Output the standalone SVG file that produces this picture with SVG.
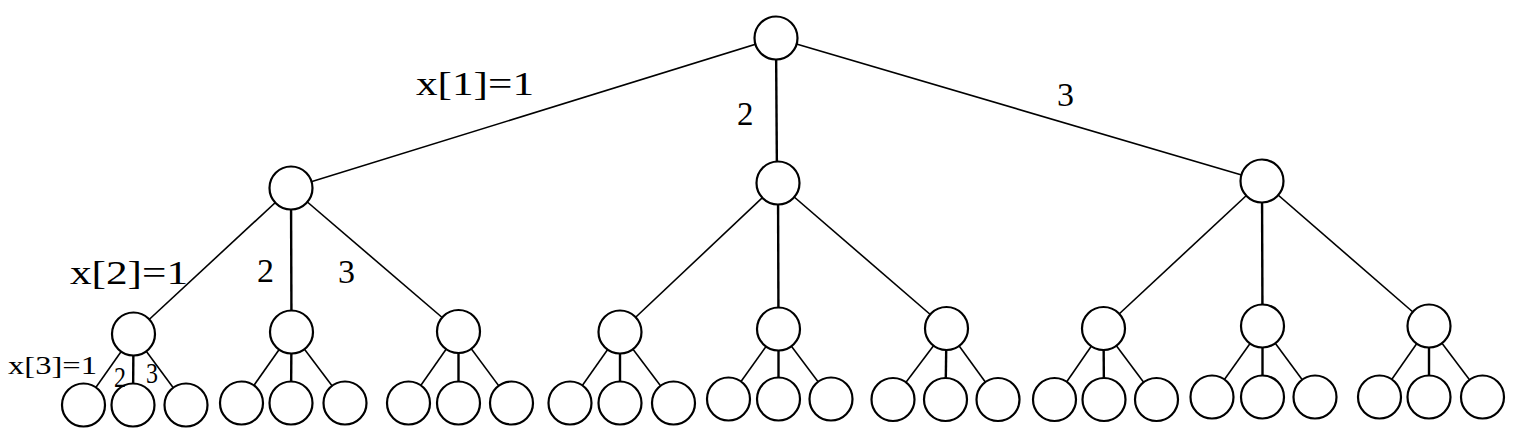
<svg xmlns="http://www.w3.org/2000/svg" width="1528" height="442" viewBox="0 0 1528 442">
<style>
.n{fill:#fff;stroke:#000;stroke-width:2.2}
.e{stroke:#000;stroke-width:1.6;fill:none}
.v{stroke:#000;stroke-width:2.4;fill:none}
.t{font-family:"Liberation Serif","Times New Roman",serif;fill:#000}
</style>
<rect width="1528" height="442" fill="#fff"/>
<g id="connectors">
<line class="e" x1="776" y1="38" x2="291" y2="188"/>
<line class="v" x1="776" y1="38" x2="777" y2="183"/>
<line class="e" x1="776" y1="38" x2="1262" y2="181"/>
<line class="e" x1="291" y1="188" x2="133.5" y2="334"/>
<line class="v" x1="291" y1="188" x2="291.5" y2="332"/>
<line class="e" x1="291" y1="188" x2="458.5" y2="331.5"/>
<line class="e" x1="778" y1="183" x2="620" y2="332"/>
<line class="v" x1="778" y1="183" x2="778.5" y2="329"/>
<line class="e" x1="778" y1="183" x2="946.5" y2="328.5"/>
<line class="e" x1="1262" y1="181" x2="1103.5" y2="328.5"/>
<line class="v" x1="1262" y1="181" x2="1262.5" y2="326"/>
<line class="e" x1="1262" y1="181" x2="1429" y2="326"/>
<line class="e" x1="133.5" y1="334" x2="83.5" y2="405"/>
<line class="v" x1="133.5" y1="334" x2="133" y2="405"/>
<line class="e" x1="133.5" y1="334" x2="186" y2="405"/>
<line class="e" x1="291.5" y1="332" x2="241.5" y2="403"/>
<line class="v" x1="291.5" y1="332" x2="291" y2="403"/>
<line class="e" x1="291.5" y1="332" x2="345" y2="403"/>
<line class="e" x1="458.5" y1="331.5" x2="408.5" y2="403"/>
<line class="v" x1="458.5" y1="331.5" x2="458.5" y2="403"/>
<line class="e" x1="458.5" y1="331.5" x2="511.5" y2="403"/>
<line class="e" x1="620" y1="332" x2="570" y2="403"/>
<line class="v" x1="620" y1="332" x2="620" y2="403"/>
<line class="e" x1="620" y1="332" x2="673.5" y2="403"/>
<line class="e" x1="778.5" y1="329" x2="728.5" y2="399"/>
<line class="v" x1="778.5" y1="329" x2="778.5" y2="399"/>
<line class="e" x1="778.5" y1="329" x2="831" y2="399"/>
<line class="e" x1="946.5" y1="328.5" x2="893" y2="399.5"/>
<line class="v" x1="946.5" y1="328.5" x2="945.5" y2="399.5"/>
<line class="e" x1="946.5" y1="328.5" x2="998" y2="399.5"/>
<line class="e" x1="1103.5" y1="328.5" x2="1054.5" y2="399.5"/>
<line class="v" x1="1103.5" y1="328.5" x2="1104" y2="399.5"/>
<line class="e" x1="1103.5" y1="328.5" x2="1156.5" y2="399.5"/>
<line class="e" x1="1262.5" y1="326" x2="1212" y2="397"/>
<line class="v" x1="1262.5" y1="326" x2="1262.5" y2="397"/>
<line class="e" x1="1262.5" y1="326" x2="1315" y2="397"/>
<line class="e" x1="1429" y1="326" x2="1379.5" y2="397"/>
<line class="v" x1="1429" y1="326" x2="1429" y2="397"/>
<line class="e" x1="1429" y1="326" x2="1482.5" y2="397"/>
</g>
<g id="root"><circle class="n" cx="776" cy="38" r="21.5"/></g>
<g id="n1"><circle class="n" cx="291" cy="188" r="21.5"/></g>
<g id="n2"><circle class="n" cx="778" cy="183" r="21.5"/></g>
<g id="n3"><circle class="n" cx="1262" cy="181" r="21.5"/></g>
<g id="n11"><circle class="n" cx="133.5" cy="334" r="21.5"/></g>
<g id="n12"><circle class="n" cx="291.5" cy="332" r="21.5"/></g>
<g id="n13"><circle class="n" cx="458.5" cy="331.5" r="21.5"/></g>
<g id="n21"><circle class="n" cx="620" cy="332" r="21.5"/></g>
<g id="n22"><circle class="n" cx="778.5" cy="329" r="21.5"/></g>
<g id="n23"><circle class="n" cx="946.5" cy="328.5" r="21.5"/></g>
<g id="n31"><circle class="n" cx="1103.5" cy="328.5" r="21.5"/></g>
<g id="n32"><circle class="n" cx="1262.5" cy="326" r="21.5"/></g>
<g id="n33"><circle class="n" cx="1429" cy="326" r="21.5"/></g>
<g id="n111"><circle class="n" cx="83.5" cy="405" r="21.5"/></g>
<g id="n112"><circle class="n" cx="133" cy="405" r="21.5"/></g>
<g id="n113"><circle class="n" cx="186" cy="405" r="21.5"/></g>
<g id="n121"><circle class="n" cx="241.5" cy="403" r="21.5"/></g>
<g id="n122"><circle class="n" cx="291" cy="403" r="21.5"/></g>
<g id="n123"><circle class="n" cx="345" cy="403" r="21.5"/></g>
<g id="n131"><circle class="n" cx="408.5" cy="403" r="21.5"/></g>
<g id="n132"><circle class="n" cx="458.5" cy="403" r="21.5"/></g>
<g id="n133"><circle class="n" cx="511.5" cy="403" r="21.5"/></g>
<g id="n211"><circle class="n" cx="570" cy="403" r="21.5"/></g>
<g id="n212"><circle class="n" cx="620" cy="403" r="21.5"/></g>
<g id="n213"><circle class="n" cx="673.5" cy="403" r="21.5"/></g>
<g id="n221"><circle class="n" cx="728.5" cy="399" r="21.5"/></g>
<g id="n222"><circle class="n" cx="778.5" cy="399" r="21.5"/></g>
<g id="n223"><circle class="n" cx="831" cy="399" r="21.5"/></g>
<g id="n231"><circle class="n" cx="893" cy="399.5" r="21.5"/></g>
<g id="n232"><circle class="n" cx="945.5" cy="399.5" r="21.5"/></g>
<g id="n233"><circle class="n" cx="998" cy="399.5" r="21.5"/></g>
<g id="n311"><circle class="n" cx="1054.5" cy="399.5" r="21.5"/></g>
<g id="n312"><circle class="n" cx="1104" cy="399.5" r="21.5"/></g>
<g id="n313"><circle class="n" cx="1156.5" cy="399.5" r="21.5"/></g>
<g id="n321"><circle class="n" cx="1212" cy="397" r="21.5"/></g>
<g id="n322"><circle class="n" cx="1262.5" cy="397" r="21.5"/></g>
<g id="n323"><circle class="n" cx="1315" cy="397" r="21.5"/></g>
<g id="n331"><circle class="n" cx="1379.5" cy="397" r="21.5"/></g>
<g id="n332"><circle class="n" cx="1429" cy="397" r="21.5"/></g>
<g id="n333"><circle class="n" cx="1482.5" cy="397" r="21.5"/></g>
<g id="labels">
<text class="t" x="416" y="95" font-size="34" textLength="118" lengthAdjust="spacingAndGlyphs">x[1]=1</text>
<text class="t" x="737" y="125" font-size="33">2</text>
<text class="t" x="1057" y="106" font-size="34">3</text>
<text class="t" x="70" y="284" font-size="34" textLength="118" lengthAdjust="spacingAndGlyphs">x[2]=1</text>
<text class="t" x="257" y="282" font-size="34">2</text>
<text class="t" x="338" y="283" font-size="34">3</text>
<text class="t" x="8" y="374" font-size="26" textLength="89" lengthAdjust="spacingAndGlyphs">x[3]=1</text>
<text class="t" x="114" y="387" font-size="30" textLength="12" lengthAdjust="spacingAndGlyphs">2</text>
<text class="t" x="146" y="383" font-size="30" textLength="12" lengthAdjust="spacingAndGlyphs">3</text>
</g>
</svg>
